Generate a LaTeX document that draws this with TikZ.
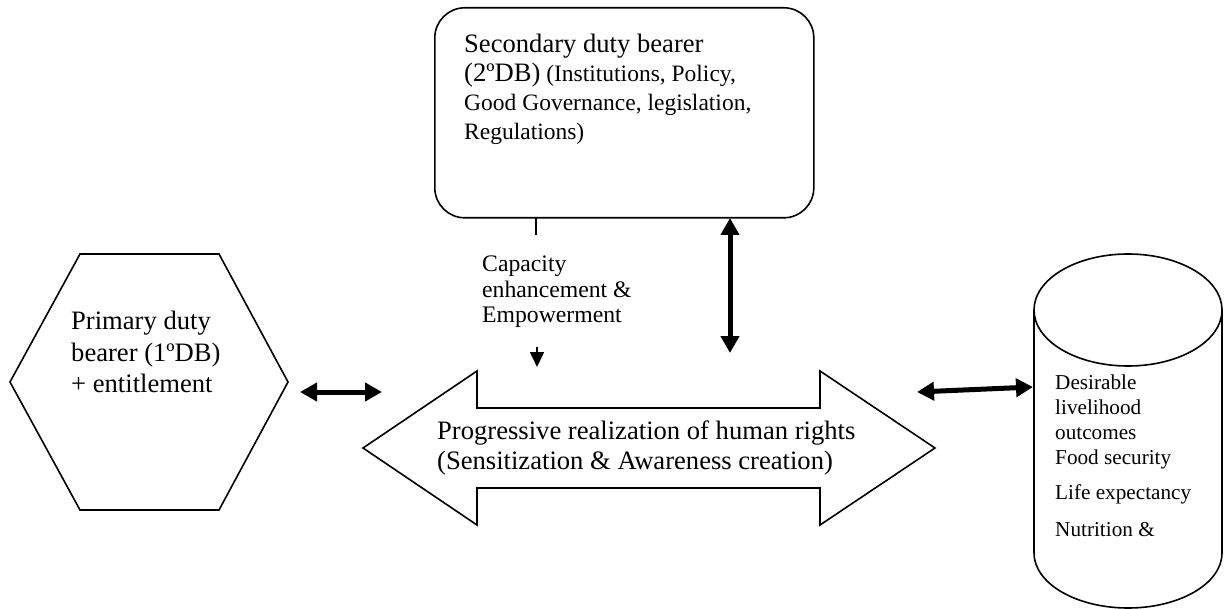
\documentclass[tikz,border=0pt]{standalone}
\usepackage{fontspec}
\setmainfont{Liberation Serif}
\usetikzlibrary{arrows.meta}
\begin{document}
\begin{tikzpicture}[x=1pt,y=-1pt,
  shape line/.style={draw=black, line width=1.6pt, line join=miter},
  fat arrow/.style={line width=5pt,
    {Triangle[length=17pt,width=18pt]}-{Triangle[length=17pt,width=18pt]}},
  thin arrow/.style={line width=1.6pt, -{Triangle[length=15pt,width=14pt]}},
  label text/.style={anchor=north west, inner sep=0pt, align=left},
  big/.style={font=\fontsize{26.6}{31.5}\selectfont},
  mid/.style={font=\fontsize{23.7}{25.5}\selectfont},
  small/.style={font=\fontsize{21.2}{24.7}\selectfont}]
\useasboundingbox (0,0) rectangle (1225,609);

% secondary duty bearer: rounded box
\node[shape line, rounded corners=30pt, minimum width=379pt, minimum height=210pt,
      anchor=north west, inner sep=0pt] (sdb) at (434,7) {};
\node[label text, font=\fontsize{23.5}{29}\selectfont] (sdbtext) at (464,34)
  {{\fontsize{26.6}{29}\selectfont Secondary duty bearer}\\
   {\fontsize{26.6}{29}\selectfont (2ºDB)} (Institutions, Policy,\\
   Good Governance, legislation,\\
   Regulations)};

% primary duty bearer: hexagon
\draw[shape line] (80,254) -- (219,254) -- (288,382) -- (219,510)
  -- (80,510) -- (10,382) -- cycle;
\node[label text, big] (pdbtext) at (71,311)
  {Primary duty\\ bearer (1ºDB)\\ + entitlement};

% progressive realization: double block arrow
\draw[shape line] (363,448) -- (477,371) -- (477,408) -- (820,408) -- (820,371)
  -- (935,448) -- (820,525) -- (820,488) -- (477,488) -- (477,525) -- cycle;
\node[label text, big, font=\fontsize{26.6}{30}\selectfont] (prtext) at (437,421)
  {Progressive realization of human rights\\ (Sensitization \& Awareness creation)};

% livelihood outcomes: cylinder
\draw[shape line] (1034,310) -- (1034,553)
  arc[start angle=180, end angle=0, x radius=94, y radius=55] -- (1222,310);
\draw[shape line] (1128,310) ellipse[x radius=94, y radius=56];
\node[label text, small] (outtext) at (1055,375)
  {Desirable\\ livelihood\\ outcomes\\ Food security\\[11pt] Life expectancy\\[12pt] Nutrition \&};

% capacity enhancement label
\node[label text, mid] (captext) at (482,256)
  {Capacity\\ enhancement \&\\ Empowerment};

% connector end points
\coordinate (tickA) at (536,217);
\coordinate (tickB) at (536,235);
\coordinate (capA) at (537,347);
\coordinate (capB) at (537,367);
\coordinate (vertA) at (730,218);
\coordinate (vertB) at (730,353);
\coordinate (leftA) at (300,392);
\coordinate (leftB) at (382,392);
\coordinate (rightA) at (917,392);
\coordinate (rightB) at (1033,387);

% connectors
\draw[line width=1.6pt] (tickA) -- (tickB);
\draw[thin arrow] (capA) -- (capB);
\draw[fat arrow] (vertA) -- (vertB);
\draw[fat arrow] (leftA) -- (leftB);
\draw[fat arrow] (rightA) -- (rightB);
\end{tikzpicture}
\end{document}
